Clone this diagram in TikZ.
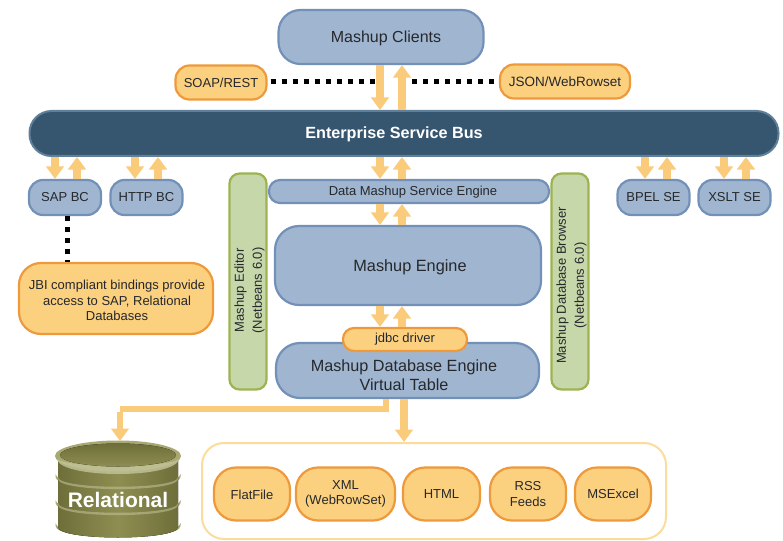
\documentclass[tikz,border=0pt]{standalone}
\usepackage{fontspec}
\setmainfont{Liberation Sans}
\usetikzlibrary{arrows.meta}
\definecolor{bluefill}{HTML}{A0B6D0}
\definecolor{blueline}{HTML}{7290B8}
\definecolor{orfill}{HTML}{FBD07F}
\definecolor{orline}{HTML}{EE9A3C}
\definecolor{grfill}{HTML}{C6D7AA}
\definecolor{grline}{HTML}{9DB352}
\definecolor{busfill}{HTML}{36556F}
\definecolor{busline}{HTML}{5F7F9A}
\definecolor{arrowc}{HTML}{FBCB7C}
\definecolor{contline}{HTML}{FBDC9C}
\definecolor{txt}{HTML}{26282C}
\definecolor{olA}{HTML}{6E6E3A}
\definecolor{olB}{HTML}{8E8E52}
\definecolor{olC}{HTML}{A8A872}
\definecolor{olD}{HTML}{C4C49C}
\tikzset{
  box/.style={draw, line width=2.2pt, align=center, text=txt, inner sep=0pt, font=\fontsize{13}{15.5}\selectfont},
  bluebox/.style={box, draw=blueline, fill=bluefill},
  orbox/.style={box, draw=orline, fill=orfill},
  grbox/.style={box, draw=grline, fill=grfill, rounded corners=10pt, minimum width=37pt, minimum height=216pt},
  smallbc/.style={bluebox, rounded corners=14pt, minimum width=72pt, minimum height=35pt},
  srcbox/.style={orbox, rounded corners=22pt, minimum height=53pt},
  blockarrow/.style={draw=arrowc, line width=7.5pt, -{Triangle[length=12.5pt,width=17.5pt]}},
  blockline/.style={draw=arrowc, line width=6.5pt},
  dots/.style={draw=black, line width=5pt, dash pattern=on 5pt off 6pt},
  rot/.style={rotate=90, align=center, text=txt, font=\fontsize{13}{18}\selectfont, inner sep=0pt},
  plainlabel/.style={text=txt, align=center, inner sep=0pt},
}
\begin{document}
\begin{tikzpicture}[x=1pt,y=-1pt]
\useasboundingbox (0,0) rectangle (783,540);
\foreach \n/\x in {a/55,b/77,c/135,d/158,e/380,f/402,g/645,h/667,i/724,j/746,k/120,l/386,m/404,n/67}
  \coordinate (x\n) at (\x,0);
\coordinate (ybend) at (0,409);

\node[bluebox, rounded corners=22pt, minimum width=205pt, minimum height=54pt] (clients) at (381,37) {};
\node[plainlabel, font=\fontsize{16}{19}\selectfont] (clientstext) at (386,38) {Mashup Clients};
\node[orbox, rounded corners=14pt, minimum width=91pt, minimum height=34pt] (soap) at (221,82.5) {SOAP/REST};
\node[orbox, rounded corners=14pt, minimum width=130pt, minimum height=34pt, font=\fontsize{13.5}{16}\selectfont] (json) at (565,81.5) {JSON/WebRowset};
\node[draw=busline, fill=busfill, line width=2pt, rounded corners=22pt, minimum width=749pt, minimum height=45pt, inner sep=0pt] (esb) at (404,133.5) {};
\node[inner sep=0pt, text=white, font=\fontsize{16.2}{19}\selectfont\bfseries] (esbtext) at (394,134) {Enterprise Service Bus};

\node[smallbc] (sap) at (65,197.5) {SAP BC};
\node[smallbc] (http) at (146.5,197.5) {HTTP BC};
\node[smallbc] (bpel) at (653.5,197.5) {BPEL SE};
\node[smallbc] (xslt) at (734.5,197.5) {XSLT SE};

\node[orbox, rounded corners=22pt, minimum width=194pt, minimum height=71pt] (jbi) at (116,298.5) {};
\node[plainlabel, font=\fontsize{13}{15.5}\selectfont] (jbitext) at (117,300.5) {JBI compliant bindings provide\\access to SAP, Relational\\Databases};

\node[grbox] (editor) at (248,281.5) {};
\node[rot] (editortext) at (249.5,290.5) {Mashup Editor\\(Netbeans 6.0)};
\node[grbox] (browser) at (570,281.5) {};
\node[rot] (browsertext) at (571.5,285.5) {Mashup Database Browser\\(Netbeans 6.0)};

\node[bluebox, rounded corners=11pt, minimum width=280pt, minimum height=23pt] (dmse) at (409,191.5) {};
\node[plainlabel, font=\fontsize{13}{15.5}\selectfont] (dmsetext) at (413,192) {Data Mashup Service Engine};
\node[bluebox, rounded corners=24pt, minimum width=266pt, minimum height=79pt] (engine) at (408,265.5) {};
\node[plainlabel, font=\fontsize{16.3}{19}\selectfont] (enginetext) at (410,267) {Mashup Engine};
\node[bluebox, rounded corners=24pt, minimum width=263pt, minimum height=55pt] (vdb) at (407.5,370.5) {};
\node[plainlabel, font=\fontsize{16.2}{19}\selectfont] (vdbtext) at (404,375) {Mashup Database Engine\\Virtual Table};
\node[orbox, rounded corners=11pt, minimum width=124pt, minimum height=23pt] (jdbc) at (405,339.5) {jdbc driver};

\node[draw=contline, line width=2pt, fill=white, rounded corners=22pt, minimum width=464pt, minimum height=96pt, inner sep=0pt] (files) at (434,491) {};
\node[srcbox, minimum width=76pt] (flat) at (252,494) {};
\node[plainlabel, font=\fontsize{13}{15.5}\selectfont] at (252,494.5) {FlatFile};
\node[srcbox, minimum width=99pt] (xml) at (345.5,494) {XML\\(WebRowSet)};
\node[srcbox, minimum width=77pt] (html) at (441.5,494) {};
\node[plainlabel, font=\fontsize{13}{15.5}\selectfont] at (441.5,494.5) {HTML};
\node[srcbox, minimum width=76pt] (rss) at (528,494) {RSS\\Feeds};
\node[srcbox, minimum width=76pt] (excel) at (613,494) {MSExcel};

\foreach \p/\q/\s/\t/\xx in {clients/esb/south/north/xe, esb/sap/south/north/xa, esb/http/south/north/xc, esb/dmse/south/north/xe, esb/bpel/south/north/xg, esb/xslt/south/north/xi, dmse/engine/south/north/xe, engine/jdbc/south/north/xe}
  \draw[blockarrow] (\p.\s -| \xx) -- (\q.\t -| \xx);
\foreach \p/\q/\s/\t/\xx in {esb/clients/north/south/xf, sap/esb/north/south/xb, http/esb/north/south/xd, dmse/esb/north/south/xf, bpel/esb/north/south/xh, xslt/esb/north/south/xj, engine/dmse/north/south/xf, jdbc/engine/north/south/xf}
  \draw[blockarrow] (\p.\s -| \xx) -- (\q.\t -| \xx);
\draw[blockarrow] (vdb.south -| xm) -- (files.north -| xm);
\draw[blockline] (vdb.south -| xl) -- (ybend -| xl) -- (ybend -| xk);
\coordinate (dbtop) at (120,441);
\draw[blockarrow, line width=6.5pt] ([yshift=-3.25pt]ybend -| xk) -- (dbtop);

\coordinate (dl) at (375,82);
\coordinate (dr) at (412,82);
\draw[dots] ([xshift=3pt]soap.east |- dl) -- (dl);
\draw[dots] (dr) -- (json.west |- dr);
\draw[dots] (sap.south -| xn) -- (jbi.north -| xn);

% relational database, drawn directly
\tikzset{olshade/.style={left color=olA, right color=olA, middle color=olB}}
\foreach \y in {474,500,523} {
  \fill[olC] (55.5,\y) .. controls (55.5,\y+15) and (180.5,\y+15) .. (180.5,\y)
     -- (180.5,\y+3) .. controls (180.5,\y+18) and (55.5,\y+18) .. (55.5,\y+3) -- cycle;
}
\fill[olshade] (58,457) -- (58,527) .. controls (58,541) and (178,541) .. (178,527) -- (178,457) -- cycle;
\foreach \y in {474,500} {
  \fill[olD, opacity=.55] (58,\y+3) .. controls (58,\y+16) and (178,\y+16) .. (178,\y+3)
     -- (178,\y+5) .. controls (178,\y+18.5) and (58,\y+18.5) .. (58,\y+5) -- cycle;
}
\fill[olC] (118,456) ellipse[x radius=63, y radius=15.5];
\fill[olD, opacity=.8] (57,459) .. controls (60,479) and (176,479) .. (179,459) .. controls (170,468) and (66,468) .. (57,459) -- cycle;
\fill[top color=olA, bottom color=olB] (118,455) ellipse[x radius=58, y radius=11.5];
\node[text=white, inner sep=0pt, font=\fontsize{21}{25}\selectfont\bfseries] (rel) at (118,499.5) {Relational};
\end{tikzpicture}
\end{document}
